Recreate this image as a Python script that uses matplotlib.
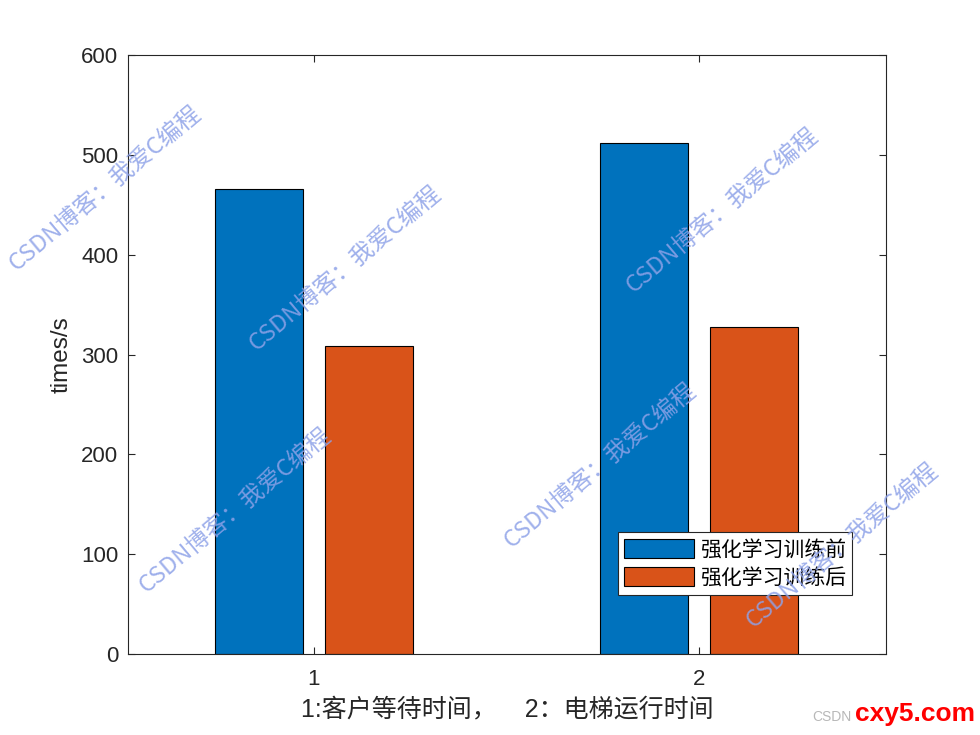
import matplotlib
matplotlib.use("Agg")
import matplotlib.pyplot as plt
import numpy as np

plt.rcParams['font.family'] = ['Liberation Sans', 'Noto Sans CJK SC', 'DejaVu Sans']

categories = [1, 2]
series_names = ['强化学习训练前', '强化学习训练后']
before = [466, 512]
after = [309, 328]
yticks = [0, 100, 200, 300, 400, 500, 600]
xlabel = '1:客户等待时间，    2：电梯运行时间'
ylabel = 'times/s'
watermark = 'CSDN博客：我爱C编程'

colors = ['#0072BD', '#D95319']
axc = '#262626'

fig = plt.figure(figsize=(9.8, 7.35), dpi=100)
ax = fig.add_axes([0.1306, 0.1102, 0.7735, 0.8148])

x = np.array(categories, dtype=float)
w = 0.229
off = 0.143
ax.bar(x - off, before, w, color=colors[0], edgecolor='black', linewidth=0.8, label=series_names[0], zorder=2)
ax.bar(x + off, after, w, color=colors[1], edgecolor='black', linewidth=0.8, label=series_names[1], zorder=2)

ax.set_xlim(0.517, 2.486)
ax.set_ylim(0, 600)
ax.set_xticks(categories)
ax.set_xticklabels([str(c) for c in categories])
ax.set_yticks(yticks)
ax.tick_params(direction='in', top=True, right=True, length=5, width=0.8,
               colors=axc, labelsize=16, pad=7)
ax.tick_params(axis='x', pad=11)
for s in ax.spines.values():
    s.set_color(axc)
    s.set_linewidth(0.8)
ax.set_xlabel(xlabel, fontsize=18, color=axc, labelpad=5,
              family=['Liberation Sans', 'Noto Sans CJK SC'])
ax.set_ylabel(ylabel, fontsize=17.5, color=axc, labelpad=6)

leg = ax.legend(loc='lower right', bbox_to_anchor=(0.955, 0.0985),
                frameon=True, fancybox=False, edgecolor=axc, framealpha=1,
                handlelength=3.36, handleheight=1.05, borderpad=0.3,
                labelspacing=0.3, handletextpad=0.25, borderaxespad=0,
                prop={'family': ['Noto Sans CJK SC'], 'size': 15})
leg.get_frame().set_linewidth(0.8)

# watermarks (figure pixel coords of centers)
wm_pos = [(105, 188), (345, 268), (235, 510), (600, 465), (722, 210), (842, 545)]
for (px, py) in wm_pos:
    fig.text(px / 980, 1 - py / 735, watermark, rotation=40, ha='center', va='center',
             fontsize=17, color='#8ea2e8', alpha=0.85, zorder=10,
             family=['Noto Sans CJK SC'], rotation_mode='anchor')

fig.text(812 / 980, 1 - 717 / 735, 'CSDN', fontsize=10, color='#b8b8b8',
         ha='left', va='center', family=['Liberation Sans'])
fig.text(975 / 980, 1 - 714 / 735, 'cxy5.com', fontsize=19, color='#ff0000',
         ha='right', va='center', fontweight='bold', family=['Liberation Sans'])

fig.savefig('out.png', dpi=100)
